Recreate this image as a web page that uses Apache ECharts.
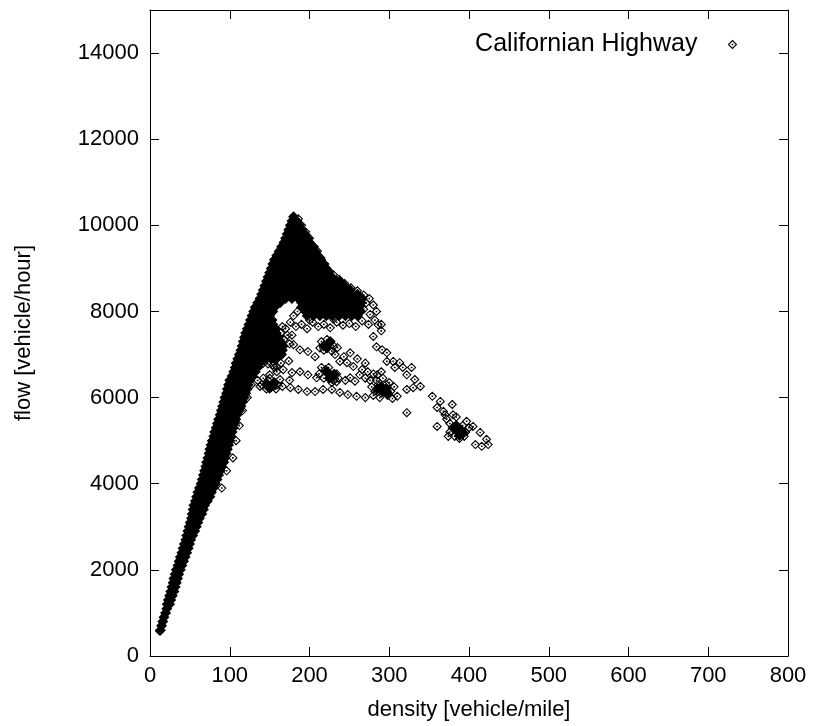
<!DOCTYPE html>
<html>
<head>
<meta charset="utf-8">
<title>Californian Highway</title>
<script src="https://cdn.jsdelivr.net/npm/echarts@6.0.0/dist/echarts.min.js"></script>
<style>
  html, body { margin: 0; padding: 0; background: #fff; }
  #chart { width: 814px; height: 726px; }
</style>
</head>
<body>
<div id="chart"></div>
<script>
// flow [vehicle/hour] rows, with the densities [vehicle/mile] where the cloud is solid black
var coreRows = [
  [600, [13]], [700, [14.5]], [800, [16]], [900, [17.5]], [1000, [19.5]],
  [1100, [21]], [1200, [21.5, 24.5]], [1300, [23, 26]], [1400, [24.5, 28]],
  [1500, [26, 30]], [1600, [27.5, 31.5]], [1700, [29, 33]], [1800, [30, 34.5]],
  [1900, [31.5, 36]], [2000, [33, 38]], [2100, [35, 40]], [2200, [36.5, 42]],
  [2300, [38, 44]], [2400, [40, 46]], [2500, [41.5, 48]], [2600, [43, 49.5]],
  [2700, [45, 51]], [2800, [46, 50, 53.5]], [2900, [47.5, 52, 56]],
  [3000, [49, 54, 58]], [3100, [50.5, 55, 60]], [3200, [52, 57, 62]],
  [3300, [53, 59, 65]], [3400, [54, 60.5, 67]], [3500, [55, 61.5, 68.5]],
  [3600, [57, 64, 70, 72]], [3700, [58.5, 64, 70, 75]], [3800, [60, 66, 72, 77]],
  [3900, [62, 68, 74, 79.5]], [4000, [64, 70, 76, 82]], [4100, [65.5, 72, 78, 84]],
  [4200, [67, 73, 80, 86]], [4300, [68.5, 75, 81, 88]], [4400, [70, 76, 83, 90]],
  [4500, [71, 77, 84, 90, 92.5]], [4600, [72.5, 79, 85, 91, 94]],
  [4700, [74, 80, 87, 93, 95.5]], [4800, [75, 81, 88, 94, 97]],
  [4900, [76.5, 83, 89, 95, 98.5]], [5000, [78, 84, 90, 96, 100]],
  [5100, [80, 86, 92, 98, 101.5]], [5200, [81, 87, 93, 99, 103]],
  [5300, [83, 89, 95, 101, 104.5]], [5400, [84.5, 91, 97, 103, 106]],
  [5500, [86, 92, 98, 104, 107.5]], [5600, [88, 94, 100, 106, 109]],
  [5700, [89.5, 96, 102, 108, 112]], [5800, [91, 97, 103, 109, 114]],
  [5900, [92.5, 99, 105, 111, 116]], [6000, [94, 100, 106, 112, 118]],
  [6100, [96, 102, 108, 114, 120]], [6200, [97, 103, 109, 116, 122]],
  [6300, [98.5, 105, 111, 117, 123]], [6400, [100, 106, 112, 119, 125]],
  [6500, [103, 109, 115, 122, 128]],
  [6600, [105, 111, 117, 123, 129, 132]], [6700, [107, 113, 119, 125, 131, 135]],
  [6800, [108, 114, 120, 126, 132, 138]],
  [6900, [110, 116, 122, 128, 134, 140, 146, 152, 158]],
  [7000, [112, 118, 124, 130, 136, 142, 148, 154, 160, 165]],
  [7100, [114, 120, 126, 132, 138, 144, 150, 156, 162, 166]],
  [7200, [115.5, 122, 128, 134, 140, 146, 152, 158, 164, 167]],
  [7300, [117, 123, 129, 135, 141, 147, 153, 159, 163]],
  [7400, [118.5, 125, 131, 137, 143, 149, 155, 161]],
  [7500, [120, 126, 132, 138, 144, 150, 156, 158]],
  [7600, [122, 128, 134, 140, 146, 152, 157]],
  [7700, [124, 130, 136, 142, 148, 154]],
  [7800, [126, 132, 138, 144, 150, 153]],
  [7900, [128, 134, 140, 146, 150, 197, 205, 213, 221, 229, 237, 245, 253, 260]],
  [8000, [130, 136, 142, 148, 154, 195, 203, 211, 219, 227, 235, 243, 251, 258, 264]],
  [8100, [132, 140, 148, 156, 190, 199, 207, 215, 223, 231, 239, 247, 255, 262]],
  [8200, [135, 143, 151, 159, 163, 190, 195, 203, 211, 219, 227, 235, 243, 251, 259, 265]],
  [8300, [138, 146, 154, 162, 170, 178, 186, 194, 202, 210, 218, 226, 234, 242, 250, 258, 266]],
  [8400, [140, 148, 156, 164, 172, 180, 188, 196, 204, 212, 220, 228, 236, 244, 252, 260]],
  [8500, [142, 150, 158, 166, 174, 182, 190, 198, 206, 214, 222, 230, 238, 246, 251]],
  [8600, [144, 152, 160, 168, 176, 184, 192, 200, 208, 216, 224, 232, 240, 244]],
  [8700, [146, 154, 162, 170, 178, 186, 194, 202, 210, 218, 226, 234, 238]],
  [8800, [148, 156, 164, 172, 180, 188, 196, 204, 212, 220, 228]],
  [8900, [150, 158, 166, 174, 182, 190, 198, 206, 214, 222, 224]],
  [9000, [152, 160, 168, 176, 184, 192, 200, 208, 216, 221]],
  [9100, [154, 162, 170, 178, 186, 194, 202, 210, 218]],
  [9200, [156, 164, 172, 180, 188, 196, 204, 212, 214]],
  [9300, [159, 166, 174, 182, 190, 198, 206, 210]],
  [9400, [162, 170, 178, 186, 194, 202, 207]],
  [9500, [165, 172, 180, 188, 196, 204]],
  [9600, [168, 176, 184, 192, 200]],
  [9700, [170, 178, 186, 194, 197]],
  [9800, [172, 180, 188, 194]],
  [9900, [174, 182, 190]],
  [10000, [176, 182, 187]],
  [10100, [178, 184]],
  [10200, [180]]
];

// dark spots where many readings pile up outside the main cloud [density, flow]
var clusterCores = [
  [218, 7200], [224, 7250], [222, 7150], [226, 7300],
  [222, 6600], [228, 6500], [225, 6450], [231, 6550],
  [285, 6200], [292, 6150], [298, 6100], [290, 6250], [296, 6200],
  [146, 6300], [152, 6260], [156, 6350], [150, 6220],
  [380, 5300], [386, 5200], [390, 5250], [384, 5350], [393, 5180], [388, 5120]
];

// single readings [density, flow] standing out of the black cloud
var peakEdge = [
  [186, 10150], [190, 10000], [195, 9850], [200, 9700], [206, 9500], [210, 9400],
  [214, 9250], [219, 9100], [224, 8950], [230, 8850], [237, 8750], [244, 8650],
  [252, 8550], [260, 8480], [268, 8380], [275, 8300], [280, 8150], [284, 8000],
  [271, 8200], [268, 8050]
];
var ledge = [
  [176, 7750], [183, 7650], [190, 7700], [197, 7600], [204, 7750], [211, 7650],
  [218, 7700], [226, 7620], [234, 7750], [242, 7680], [250, 7720], [258, 7650],
  [266, 7780], [274, 7700], [282, 7800], [290, 7700], [200, 7800], [230, 7820]
];
var gapEdge = [
  [164, 7500], [168, 7350], [172, 7450], [178, 7450], [175, 7250],
  [170, 7600], [166, 7650], [174, 6850], [164, 6800], [156, 6700],
  [180, 7900], [185, 8000]
];
var upperChain = [
  [276, 7930], [286, 7690], [280, 7420], [284, 7180], [291, 7110], [297, 7040],
  [297, 6840], [305, 6840], [313, 6810], [307, 6700], [317, 6700], [328, 6700],
  [322, 6530], [332, 6420], [339, 6260], [330, 6230], [322, 6190], [290, 7550]
];
var chainCluster = [
  [278, 6250], [282, 6150], [286, 6300], [290, 6100], [294, 6200], [298, 6050],
  [302, 6150], [288, 6000], [296, 6300], [284, 6400], [292, 6450], [300, 6350],
  [306, 6250], [280, 6050], [310, 6030], [304, 5980], [276, 6400], [280, 6550],
  [290, 6600], [322, 5650]
];
var tail = [
  [354, 6030], [364, 5910], [379, 5840], [360, 5770], [368, 5680], [360, 5330],
  [374, 5100], [372, 5500], [376, 5400], [380, 5600], [396, 5200], [400, 5300],
  [397, 5450], [405, 5330], [382, 5100], [394, 5100], [414, 5190], [422, 5030],
  [424, 4910], [408, 4910], [416, 4870], [376, 5200], [384, 5550], [370, 5600],
  [388, 5050], [392, 5350]
];
var middleBranch = [
  [180, 7230], [188, 7110], [198, 7070], [207, 6950], [215, 7300], [220, 7200],
  [218, 7100], [228, 7080], [222, 7350], [213, 7150], [230, 7200],
  [232, 7000], [235, 7160], [238, 6840], [247, 6810], [251, 7040], [255, 6720],
  [266, 6650], [273, 6600], [285, 6530], [243, 6950], [260, 6900], [270, 6800]
];
var middleRow = [
  [150, 6530], [159, 6600], [167, 6650], [178, 6580], [188, 6600], [198, 6530],
  [209, 6460], [163, 6420], [175, 6400], [234, 6370], [245, 6400], [251, 6460],
  [263, 6530], [257, 6380], [270, 6450]
];
var middleBlob = [
  [215, 6700], [220, 6650], [230, 6400], [218, 6450], [224, 6700],
  [234, 6550], [228, 6350], [236, 6450], [212, 6550]
];
var lowerRow = [
  [138, 6260], [146, 6200], [155, 6260], [166, 6260], [176, 6230], [186, 6190],
  [197, 6140], [207, 6140], [217, 6190], [228, 6190], [238, 6120], [248, 6070],
  [259, 6030], [270, 6000]
];
var leftBlob = [
  [140, 6300], [148, 6400], [160, 6300], [142, 6450], [150, 6450], [158, 6200],
  [135, 6400], [130, 6900], [136, 6850], [142, 6800], [148, 6780], [154, 6750],
  [159, 6720]
];
var bandEdge = [
  [104, 4600], [108, 5000], [112, 5350], [116, 5700], [122, 6000], [127, 6300],
  [96, 4300], [90, 3900], [12, 580]
];

var xTicks = { min: 0, max: 800, step: 100 };
var yTicks = { min: 0, max: 15000, step: 2000 };

var denseData = [];
coreRows.forEach(function (row) {
  row[1].forEach(function (d) { denseData.push([d, row[0]]); });
});
denseData = denseData.concat(clusterCores);
var singleData = [].concat(peakEdge, ledge, gapEdge, upperChain, chainCluster,
  tail, middleBranch, middleRow, middleBlob, lowerRow, leftBlob, bandEdge);

var font = "'Liberation Sans', Arial, Helvetica, sans-serif";
var diamond = 'path://M0,-4L4,0L0,4L-4,0ZM-0.25,-0.25L0.25,-0.25L0.25,0.25L-0.25,0.25Z';
var border = { show: true, onZero: false, lineStyle: { color: '#000', width: 1 } };
var ticks = { show: true, inside: true, length: 9, lineStyle: { color: '#000', width: 1 } };
var hollow = { color: 'rgba(0,0,0,0)', borderColor: '#000', borderWidth: 1.1, opacity: 1 };

var chart = echarts.init(document.getElementById('chart'));
chart.setOption({
  animation: false,
  backgroundColor: '#fff',
  textStyle: { fontFamily: font, color: '#000' },
  grid: { left: 150, right: 26, top: 10, bottom: 69, containLabel: false },
  legend: {
    data: [{ name: 'Californian Highway', icon: diamond }],
    right: 72,
    top: 27,
    align: 'right',
    itemWidth: 8,
    itemHeight: 8,
    itemStyle: hollow,
    textStyle: { fontSize: 25, color: '#000', fontFamily: font, padding: [0, 26, 0, 0] }
  },
  xAxis: [
    {
      type: 'value', position: 'bottom',
      min: xTicks.min, max: xTicks.max, interval: xTicks.step,
      name: 'density [vehicle/mile]', nameLocation: 'middle', nameGap: 43,
      nameTextStyle: { fontSize: 22, color: '#000', fontFamily: font },
      axisLine: border, axisTick: ticks,
      axisLabel: { fontSize: 22, color: '#000', fontFamily: font, margin: 9 },
      splitLine: { show: false }
    },
    {
      type: 'value', position: 'top',
      min: xTicks.min, max: xTicks.max, interval: xTicks.step,
      axisLine: border, axisTick: ticks,
      axisLabel: { show: false }, splitLine: { show: false }
    }
  ],
  yAxis: [
    {
      type: 'value', position: 'left',
      min: yTicks.min, max: yTicks.max, interval: yTicks.step,
      name: 'flow [vehicle/hour]', nameLocation: 'middle', nameGap: 115,
      nameTextStyle: { fontSize: 22, color: '#000', fontFamily: font },
      axisLine: border, axisTick: ticks,
      axisLabel: {
        fontSize: 22, color: '#000', fontFamily: font, margin: 11,
        formatter: function (v) { return v > 14000 ? '' : String(v); }
      },
      splitLine: { show: false }
    },
    {
      type: 'value', position: 'right',
      min: yTicks.min, max: yTicks.max, interval: yTicks.step,
      axisLine: border, axisTick: ticks,
      axisLabel: { show: false }, splitLine: { show: false }
    }
  ],
  series: [
    {
      name: 'overplotted',
      type: 'scatter',
      symbol: 'diamond',
      symbolSize: 11,
      large: false,
      itemStyle: { color: '#000', borderWidth: 0, opacity: 1 },
      silent: true,
      data: denseData
    },
    {
      name: 'Californian Highway',
      type: 'scatter',
      symbol: diamond,
      symbolSize: 8,
      itemStyle: hollow,
      data: singleData
    }
  ]
});
</script>
</body>
</html>
